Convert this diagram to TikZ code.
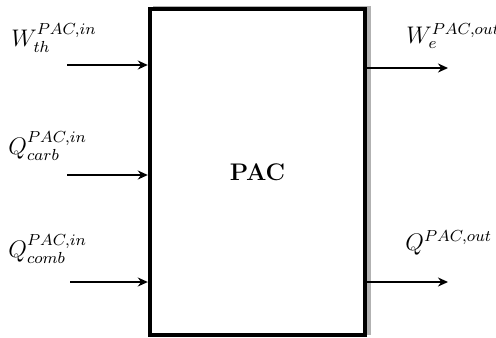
\documentclass[tikz,border=0pt]{standalone}
\usetikzlibrary{arrows.meta}
\begin{document}
\begin{tikzpicture}[x=0.5pt,y=-0.5pt,
  flow/.style={-{Stealth[length=5pt,width=4.5pt]}, line width=1pt},
  lbl/.style={anchor=base west, inner sep=0pt, font=\fontsize{11.5}{13}\selectfont}]
\useasboundingbox (0,0) rectangle (496,337);
\fill[gray!60] (153,6) rectangle (371,335);
\node (pac) [draw, line width=2.2pt, fill=white, minimum width=107.5pt, minimum height=162.75pt, inner sep=0pt, font=\fontsize{12}{14}\selectfont\bfseries] at (257.5,172) {PAC};
\coordinate (i1) at (67,65);
\coordinate (i2) at (67,175);
\coordinate (i3) at (70,282);
\coordinate (o1) at (448,68);
\coordinate (o2) at (448,282);
\draw[flow] (i1) -- (i1 -| pac.west);
\draw[flow] (i2) -- (i2 -| pac.west);
\draw[flow] (i3) -- (i3 -| pac.west);
\draw[flow] (o1 -| pac.east) -- (o1);
\draw[flow] (o2 -| pac.east) -- (o2);
\node (l1) [lbl] at (11,46) {$W_{th}^{PAC,in}$};
\node (l2) [lbl] at (8,154) {$Q_{carb}^{PAC,in}$};
\node (l3) [lbl] at (8,257) {$Q_{comb}^{PAC,in}$};
\node (l4) [lbl] at (406,43) {$W_{e}^{PAC,out}$};
\node (l5) [lbl] at (405,250) {$Q^{PAC,out}$};
\end{tikzpicture}
\end{document}
